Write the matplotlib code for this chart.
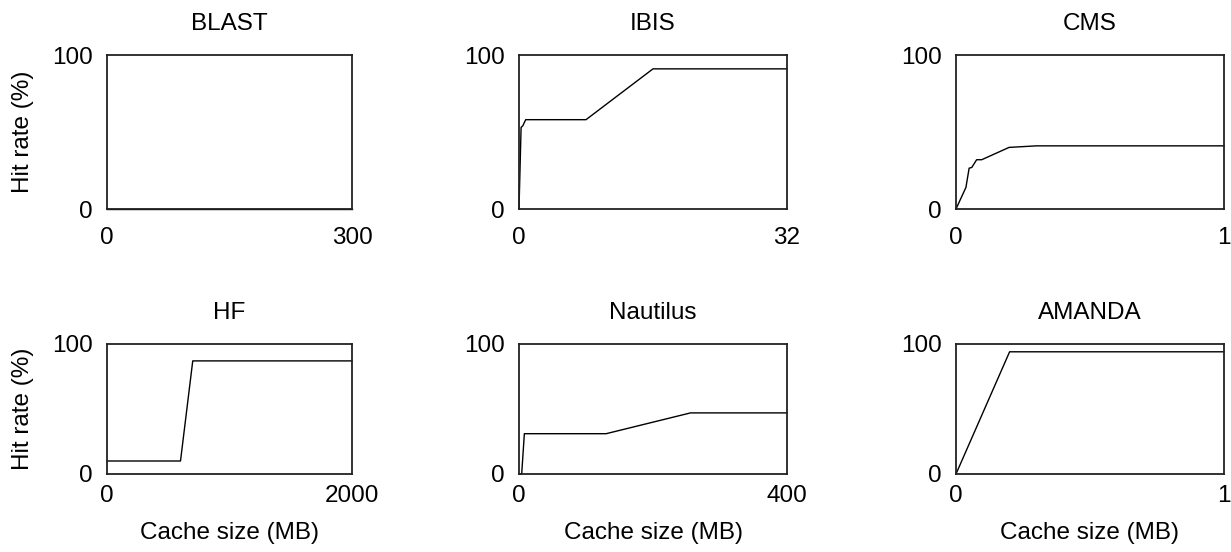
import matplotlib
matplotlib.use("Agg")
import matplotlib.pyplot as plt

plt.rcParams['font.family'] = ['Liberation Sans', 'DejaVu Sans']

titles = ["BLAST", "IBIS", "CMS", "HF", "Nautilus", "AMANDA"]
x_max = [300, 32, 1, 2000, 400, 1]

blast_x = [0, 300]
blast_y = [0, 0]

ibis_x = [0, 0.25, 0.45, 0.8, 8, 16, 32]
ibis_y = [0, 53, 54, 58, 58, 91, 91]

cms_x = [0, 0.037, 0.049, 0.059, 0.077, 0.096, 0.198, 0.30, 1.0]
cms_y = [0, 14, 26.5, 27, 32, 32, 40, 41, 41]

hf_x = [0, 600, 700, 2000]
hf_y = [10, 10, 87, 87]

nautilus_x = [0, 4, 8, 130, 256, 400]
nautilus_y = [0, 0, 31, 31, 47, 47]

amanda_x = [0, 0.2, 1]
amanda_y = [0, 94, 94]

series = [(blast_x, blast_y), (ibis_x, ibis_y), (cms_x, cms_y),
          (hf_x, hf_y), (nautilus_x, nautilus_y), (amanda_x, amanda_y)]

W, H = 1231, 552
FS = 17.5
fig = plt.figure(figsize=(W / 100, H / 100), dpi=100)

col_left = [107, 519, 956]
col_width = [245, 268, 268]
row_top = [55, 344]
row_height = [154, 130]
row_xpad = [13, 8]

for i, (title, xm, (xs, ys)) in enumerate(zip(titles, x_max, series)):
    r, c = divmod(i, 3)
    left = col_left[c] / W
    bottom = (H - row_top[r] - row_height[r]) / H
    ax = fig.add_axes([left, bottom, col_width[c] / W, row_height[r] / H])
    ax.plot(xs, ys, color="black", linewidth=1.0, clip_on=False, zorder=1)
    ax.set_xlim(0, xm)
    ax.set_ylim(0, 100)
    ax.set_xticks([0, xm])
    ax.set_xticklabels(["0", str(xm)])
    ax.set_yticks([0, 100])
    ax.set_yticklabels(["0", "100"])
    ax.tick_params(length=0, labelsize=FS)
    ax.tick_params(axis='y', pad=10)
    ax.tick_params(axis='x', pad=row_xpad[r])
    for s in ax.spines.values():
        s.set_linewidth(1.3)
        s.set_color("#222222")
        s.set_zorder(3)
    ax.set_title(title, fontsize=FS, pad=18)
    if c == 0:
        ax.set_ylabel("Hit rate (%)", fontsize=FS, labelpad=13)
    if r == 1:
        ax.set_xlabel("Cache size (MB)", fontsize=FS, labelpad=11)

fig.savefig("out.png", dpi=100)
